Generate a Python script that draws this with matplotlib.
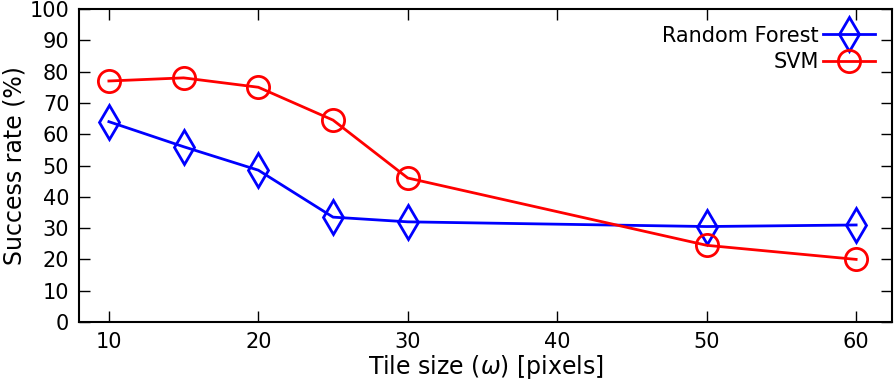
import numpy as np
from matplotlib import pyplot as plt

tile_sizes = [10, 15, 20, 25, 30, 50, 60]
rf_rate = [64, 56, 48.5, 33.5, 32, 30.5, 31]
svm_rate = [77, 78, 75, 64.5, 46, 24.5, 20]
x_ticks = [10, 20, 30, 40, 50, 60]
y_ticks = list(range(0, 101, 10))

dpi = 100
fig = plt.figure(figsize=(894 / dpi, 380 / dpi), dpi=dpi)
ax = fig.add_axes([79 / 894, 58 / 380, 813 / 894, 313 / 380])

ax.plot(tile_sizes, rf_rate, color='blue', lw=2, marker='d', ms=17,
        mfc='none', mec='blue', mew=2, label='Random Forest')
ax.plot(tile_sizes, svm_rate, color='red', lw=2, marker='o', ms=16,
        mfc='none', mec='red', mew=2, label='SVM')

ax.set_xlim(8, 62.4)
ax.set_ylim(0, 100)
ax.set_xticks(x_ticks)
ax.set_yticks(y_ticks)
ax.tick_params(direction='in', top=True, right=True, length=8, width=1,
               labelsize=15, pad=7)
for s in ax.spines.values():
    s.set_linewidth(1.5)

ax.set_xlabel(r'Tile size ($\omega$) [pixels]', fontsize=17, labelpad=1)
ax.set_ylabel('Success rate (%)', fontsize=17, labelpad=2)
ax.legend(loc='upper right', frameon=False, numpoints=1, markerfirst=False,
          fontsize=15, handlelength=2.5, handletextpad=0.2, labelspacing=0.3,
          borderaxespad=0.4)

plt.savefig('out.png', dpi=dpi)
plt.close()
